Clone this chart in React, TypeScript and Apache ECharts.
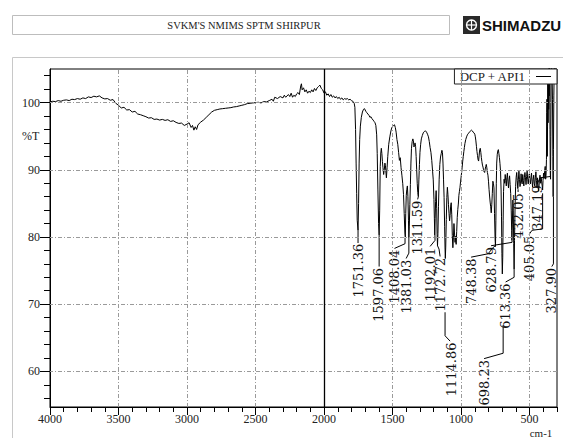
import React, { useEffect, useRef } from "react";
import * as echarts from "echarts";

// Spectrum: wavenumber (cm-1) and transmittance (%T)
const waveNumbers = [
  4000, 3980, 3960, 3940, 3920, 3900, 3880, 3860, 3840, 3820, 3800, 3780, 3760, 3740, 3720, 3700, 3680, 3660, 3640, 3620,
  3600, 3580, 3560, 3540, 3520, 3500, 3480, 3460, 3440, 3420, 3400, 3380, 3360, 3340, 3320, 3300, 3280, 3260, 3240, 3220,
  3200, 3180, 3160, 3140, 3120, 3100, 3080, 3060, 3040, 3020, 3000, 2985, 2970, 2960, 2950, 2940, 2930, 2920, 2900, 2880,
  2860, 2840, 2820, 2800, 2780, 2760, 2740, 2720, 2700, 2680, 2660, 2640, 2620, 2600, 2580, 2560, 2540, 2520, 2500, 2480,
  2460, 2440, 2420, 2400, 2380, 2370, 2360, 2340, 2320, 2300, 2290, 2280, 2260, 2250, 2240, 2230, 2220, 2210, 2200, 2190,
  2180, 2170, 2165, 2160, 2150, 2140, 2130, 2120, 2110, 2100, 2090, 2080, 2070, 2060, 2050, 2040, 2030, 2020, 2010, 2000,
  1990, 1980, 1970, 1960, 1950, 1940, 1930, 1920, 1910, 1900, 1890, 1880, 1870, 1860, 1850, 1840, 1830, 1820, 1810, 1800,
  1790, 1780, 1775, 1770, 1766, 1762, 1758, 1752, 1748, 1744, 1740, 1735, 1728, 1720, 1712, 1705, 1700, 1695, 1688, 1680,
  1672, 1665, 1658, 1650, 1642, 1635, 1628, 1622, 1616, 1612, 1607, 1602, 1598, 1594, 1590, 1586, 1582, 1578, 1574, 1570,
  1565, 1560, 1556, 1552, 1548, 1545, 1540, 1535, 1528, 1520, 1512, 1505, 1498, 1492, 1486, 1480, 1474, 1468, 1462, 1456,
  1450, 1444, 1438, 1432, 1426, 1420, 1415, 1410, 1407, 1404, 1400, 1396, 1392, 1388, 1384, 1381, 1378, 1374, 1370, 1366,
  1362, 1357, 1352, 1348, 1344, 1340, 1336, 1332, 1328, 1324, 1320, 1316, 1312, 1308, 1304, 1300, 1295, 1290, 1283, 1276,
  1268, 1260, 1252, 1245, 1238, 1232, 1226, 1220, 1214, 1208, 1203, 1198, 1195, 1192, 1189, 1186, 1182, 1178, 1175, 1172,
  1169, 1165, 1160, 1155, 1150, 1145, 1140, 1136, 1132, 1128, 1124, 1120, 1117, 1115, 1112, 1108, 1104, 1100, 1096, 1092,
  1088, 1084, 1080, 1076, 1072, 1068, 1064, 1060, 1056, 1052, 1048, 1044, 1040, 1036, 1032, 1028, 1024, 1020, 1016, 1012,
  1008, 1004, 1000, 996, 992, 988, 984, 980, 976, 972, 966, 960, 954, 948, 942, 936, 930, 924, 918, 912,
  906, 900, 896, 892, 888, 884, 880, 876, 872, 868, 864, 860, 856, 852, 848, 844, 840, 836, 832, 828,
  824, 820, 816, 812, 808, 804, 800, 796, 792, 788, 784, 780, 776, 772, 768, 764, 760, 756, 752, 749,
  746, 743, 740, 736, 732, 728, 724, 720, 716, 712, 708, 705, 702, 699, 696, 693, 690, 686, 682, 678,
  674, 670, 666, 662, 658, 654, 650, 646, 642, 638, 634, 631, 629, 626, 622, 619, 616, 613, 610, 606,
  602, 598, 594, 590, 586, 582, 578, 574, 570, 566, 562, 558, 554, 550, 546, 542, 538, 534, 530, 526,
  522, 518, 514, 510, 506, 502, 498, 494, 490, 486, 482, 478, 474, 470, 466, 462, 458, 454, 450, 446,
  442, 438, 434, 432, 428, 424, 420, 416, 412, 408, 405, 402, 398, 394, 390, 386, 383, 380, 377, 375,
  373, 371, 369, 367, 365, 363, 361, 359, 357, 355, 353, 351, 349, 347, 345, 343, 341, 338, 336, 333,
  330, 328, 326, 323, 320, 316, 312, 308, 304, 300,
];
const transmittance = [
  100.1, 100.2, 100.15, 100.3, 100.2, 100.35, 100.4, 100.3, 100.5, 100.45, 100.6, 100.5, 100.7, 100.6, 100.85, 100.75, 100.95, 100.85, 101.0, 100.7,
  100.55, 100.6, 100.35, 100.45, 99.9, 99.6, 99.2, 99.3, 98.9, 98.95, 98.6, 98.7, 98.3, 98.2, 98.05, 97.9, 97.7, 97.75, 97.5, 97.55,
  97.4, 97.5, 97.35, 97.45, 97.2, 97.3, 97.05, 96.9, 96.95, 96.6, 96.8, 97.0, 96.3, 96.6, 95.9, 96.4, 96.0, 96.7, 97.1, 97.4,
  97.8, 98.2, 98.6, 98.85, 98.95, 99.05, 99.1, 99.15, 99.2, 99.25, 99.35, 99.4, 99.5, 99.6, 99.7, 99.85, 99.9, 99.95, 100.0, 100.05,
  99.95, 100.15, 100.1, 100.3, 100.5, 100.2, 100.8, 100.6, 100.9, 100.7, 101.1, 100.8, 101.2, 100.9, 101.4, 100.8, 101.1, 100.9, 101.3, 101.5,
  101.2, 102.5, 102.8, 101.9, 102.2, 101.6, 101.9, 101.4, 101.7, 101.5, 101.9, 101.6, 102.1, 101.8, 102.2, 102.4, 102.6, 102.1, 101.9, 101.4,
  101.6, 101.1, 101.3, 100.9, 101.2, 100.8, 101.0, 100.7, 100.9, 100.6, 100.8, 100.5, 100.7, 100.4, 100.6, 100.5, 100.6, 100.4, 100.5, 100.3,
  100.2, 99.9, 99.3, 96.0, 91.0, 86.5, 82.5, 81.0, 85.0, 91.0, 94.5, 96.5, 97.8, 98.6, 99.0, 99.1, 98.9, 98.7, 98.5, 98.3,
  98.1, 97.8, 97.9, 97.6, 97.4, 97.2, 97.0, 96.6, 95.2, 92.4, 87.0, 82.0, 80.3, 84.0, 90.5, 92.5, 93.2, 92.4, 91.2, 90.3,
  89.3, 90.1, 91.0, 90.6, 89.5, 88.8, 90.3, 92.0, 93.8, 94.9, 95.8, 96.3, 96.5, 96.6, 96.7, 96.3, 95.6, 94.5, 93.8, 92.6,
  91.4, 91.8, 90.3, 89.2, 88.0, 86.3, 83.5, 80.6, 80.0, 83.5, 86.2, 87.1, 87.6, 86.0, 82.5, 79.9, 81.5, 84.8, 87.8, 91.0,
  93.2, 94.2, 94.6, 94.3, 93.4, 93.6, 94.0, 93.5, 92.0, 90.0, 88.0, 86.6, 86.0, 88.5, 90.8, 92.6, 93.8, 94.6, 95.1, 95.5,
  95.7, 95.8, 95.6, 95.3, 94.9, 94.2, 93.3, 92.6, 91.4, 89.8, 88.5, 85.6, 82.8, 80.3, 82.8, 85.3, 86.9, 84.2, 80.4, 78.7,
  80.5, 84.5, 88.6, 90.8, 91.9, 92.4, 92.9, 92.6, 91.0, 88.5, 85.9, 81.6, 78.2, 76.8, 78.5, 82.6, 85.9, 87.4, 86.3, 84.8,
  83.5, 82.4, 83.2, 84.6, 85.1, 83.3, 80.2, 78.4, 79.9, 82.0, 80.6, 79.2, 80.1, 78.9, 80.8, 82.9, 84.1, 84.9, 86.2, 86.8,
  87.4, 88.2, 88.9, 89.6, 90.4, 91.3, 92.0, 92.7, 93.3, 93.9, 94.5, 94.9, 95.2, 95.4, 95.5, 95.7, 95.8, 95.9, 95.8, 95.6,
  95.5, 95.3, 94.9, 94.3, 93.5, 92.7, 92.1, 91.5, 91.3, 92.2, 93.0, 93.2, 92.6, 91.8, 91.2, 90.7, 90.4, 90.0, 89.7, 89.6,
  90.1, 90.5, 90.8, 90.3, 89.6, 89.2, 88.3, 87.1, 86.1, 85.2, 84.5, 83.6, 84.8, 86.5, 88.3, 88.0, 87.3, 83.5, 79.8, 78.6,
  82.5, 88.0, 91.0, 92.3, 92.8, 93.0, 92.4, 91.8, 90.9, 89.8, 87.0, 83.0, 77.5, 74.5, 77.0, 82.5, 86.8, 88.6, 88.0, 89.3,
  88.4, 87.6, 88.8, 89.5, 88.2, 87.3, 88.5, 89.1, 87.8, 86.5, 84.0, 81.0, 79.5, 81.8, 85.5, 84.0, 79.0, 75.2, 79.5, 84.5,
  87.5, 88.9, 89.6, 88.4, 87.2, 88.5, 89.8, 88.6, 87.5, 88.0, 89.4, 88.1, 87.9, 89.3, 88.4, 87.6, 88.9, 89.6, 88.8, 87.8,
  89.0, 89.8, 88.6, 87.9, 88.7, 89.4, 88.5, 87.9, 88.8, 89.5, 88.3, 87.4, 88.6, 89.2, 88.0, 87.6, 88.8, 89.7, 88.4, 87.5,
  88.8, 87.6, 86.8, 86.8, 88.5, 89.2, 88.0, 88.9, 88.2, 87.6, 87.0, 88.4, 89.5, 88.7, 89.8, 90.5, 88.6, 89.2, 91.5, 98.5,
  100.5, 92.0, 96.5, 103.5, 97.0, 104.0, 99.0, 105.5, 101.0, 105.5, 104.0, 96.0, 89.5, 88.6, 95.0, 103.0, 105.5, 105.5, 104.5, 100.5,
  92.0, 86.0, 93.0, 101.0, 105.5, 105.5, 104.2, 105.5, 105.5, 105.5,
];

// Peak annotations
const peakLabels = [
  "1751.36", "1597.06", "1408.04", "1381.03", "1311.59", "1192.01", "1172.72", "1114.86",
  "748.38", "698.23", "628.79", "613.36", "432.05", "405.05", "347.19", "327.90",
];
const labelWn = [1752, 1606, 1489, 1401, 1321, 1226, 1153, 1073, 927, 832, 781, 675, 584, 503, 445, 341];
const labelTopT = [79.0, 75.4, 78.1, 76.6, 85.4, 78.4, 76.9, 64.3, 76.8, 61.7, 78.5, 73.1, 86.5, 80.2, 87.7, 75.4];
const leaderPaths: number[][][] = [
  [[1752, 81.0], [1752, 79.1]],
  [[1598, 80.3], [1598, 75.6]],
  [[1409, 79.9], [1409, 79.0], [1486, 78.3]],
  [[1381, 79.9], [1381, 77.6], [1401, 76.8]],
  [[1312, 86.0], [1317, 85.6]],
  [[1191, 80.3], [1190, 79.5], [1226, 78.6]],
  [[1172, 78.7], [1161, 78.2], [1153, 77.1]],
  [[1117, 68.8], [1117, 65.3], [1080, 64.5]],
  [[927, 77.0], [803, 77.5], [759, 78.6], [749, 78.6]],
  [[832, 61.9], [693, 62.7], [693, 66.9]],
  [[781, 78.7], [628, 79.2], [628, 79.5]],
  [[675, 73.3], [613, 74.0], [613, 75.2]],
  [[584, 86.7], [584, 87.1]],
  [[503, 80.4], [482, 81.0], [405, 81.2], [405, 86.5]],
  [[445, 87.9], [423, 88.8], [350, 89.0]],
  [[326, 86.0], [326, 76.0], [338, 75.6]],
];

const xLabelValues = [4000, 3500, 3000, 2500, 2000, 1500, 1000, 500];
const xGridValues = [3500, 3000, 2500, 1500, 1000, 500];
const yLabelValues = [60, 70, 80, 90, 100];
const yMinorTicks = [56, 58, 60, 62, 64, 66, 68, 70, 72, 74, 76, 78, 80, 82, 84, 86, 88, 90, 92, 94, 96, 98, 100, 102, 104];
const seriesName = "DCP + API1";
const titleText = "SVKM'S NMIMS SPTM SHIRPUR";

const SERIF = '"Liberation Serif", "Times New Roman", serif';

export default function App() {
  const ref = useRef<HTMLDivElement>(null);
  useEffect(() => {
    if (!ref.current) return;
    const chart = echarts.init(ref.current, undefined, { renderer: "svg" });
    const spectrum = waveNumbers.map((w, i) => [w, transmittance[i]]);
    const dash = [4, 2, 1, 2];
    const option: any = {
      animation: false,
      backgroundColor: "#fff",
      grid: { left: 50, top: 69, width: 507, height: 338, show: true, borderColor: "#000", borderWidth: 1, backgroundColor: "transparent" },
      legend: {
        data: [{ name: seriesName, icon: "rect" }],
        right: 6,
        top: 69,
        align: "right",
        itemWidth: 15,
        itemHeight: 1,
        padding: [1, 6, 1, 4],
        backgroundColor: "#fff",
        borderColor: "#222",
        borderWidth: 1,
        textStyle: { fontFamily: SERIF, fontSize: 13, color: "#222", padding: [0, 6, 0, 0] },
      },
      xAxis: [
        {
          type: "value", inverse: true, min: 300, max: 4000, interval: 100, position: "bottom",
          axisLine: { lineStyle: { color: "#000", width: 1 } },
          axisTick: { length: 5, lineStyle: { color: "#000" } },
          axisLabel: { customValues: xLabelValues, formatter: (v: number) => String(v), margin: 6, fontFamily: SERIF, fontSize: 12, color: "#222" },
          splitLine: { show: false },
        },
        {
          type: "value", inverse: true, min: 300, max: 4000, position: "bottom",
          axisLine: { show: false },
          axisTick: { customValues: xLabelValues, length: 8, lineStyle: { color: "#000" } },
          axisLabel: { show: false },
          splitLine: { show: false },
        },
      ],
      yAxis: [
        {
          type: "value", min: 54.7, max: 105, position: "left",
          axisLine: { show: true, lineStyle: { color: "#000", width: 1 } },
          axisTick: { show: true, customValues: yMinorTicks, length: 6, lineStyle: { color: "#000" } },
          axisLabel: { customValues: yLabelValues, formatter: (v: number) => String(v), margin: 10, fontFamily: SERIF, fontSize: 12, color: "#222" },
          splitLine: { show: false },
        },
        {
          type: "value", min: 54.7, max: 105, position: "left",
          axisLine: { show: false },
          axisTick: { show: true, customValues: yLabelValues, length: 10, lineStyle: { color: "#000" } },
          axisLabel: { show: false },
          splitLine: { show: false },
        },
      ],
      graphic: [
        { type: "rect", shape: { x: 12.5, y: 15.5, width: 437, height: 19 }, style: { fill: "#fff", stroke: "#bdbdbd", lineWidth: 1 }, z: 0 },
        { type: "text", x: 244, y: 25, style: { text: titleText, font: '10.5px "Liberation Serif"', fill: "#222", align: "center", verticalAlign: "middle" } },
        { type: "rect", shape: { x: 12.5, y: 57.5, width: 560, height: 400 }, style: { fill: "none", stroke: "#c8c8c8", lineWidth: 1 }, z: 0 },
        { type: "rect", shape: { x: 463, y: 16, width: 17, height: 18 }, style: { fill: "#2a2a2a" } },
        { type: "circle", shape: { cx: 471.5, cy: 25, r: 5 }, style: { fill: "none", stroke: "#fff", lineWidth: 1.4 } },
        { type: "line", shape: { x1: 471.5, y1: 20, x2: 471.5, y2: 30 }, style: { stroke: "#fff", lineWidth: 1.2 } },
        { type: "line", shape: { x1: 466.5, y1: 25, x2: 476.5, y2: 25 }, style: { stroke: "#fff", lineWidth: 1.2 } },
        { type: "text", x: 482, y: 25.5, style: { text: "SHIMADZU", font: 'bold 15px "Liberation Sans"', fill: "#111", align: "left", verticalAlign: "middle" } },
        { type: "text", x: 22, y: 136, style: { text: "%T", font: '12px "Liberation Serif"', fill: "#222", align: "left", verticalAlign: "middle" } },
        { type: "text", x: 541, y: 433, style: { text: "cm-1", font: '11px "Liberation Serif"', fill: "#222", align: "center", verticalAlign: "middle" } },
      ],
      series: [
        {
          name: "grid-lines",
          type: "line",
          data: [],
          silent: true,
          z: 1,
          markLine: {
            silent: true,
            symbol: ["none", "none"],
            label: { show: false },
            animation: false,
            data: [
              ...yLabelValues.map((v) => ({ yAxis: v, lineStyle: { color: "#9a9a9a", width: 1, type: dash } })),
              ...xGridValues.map((v) => ({ xAxis: v, lineStyle: { color: "#9a9a9a", width: 1, type: dash } })),
              { xAxis: 2000, lineStyle: { color: "#000", width: 1.3, type: "solid" } },
            ],
          },
        },
        {
          name: seriesName,
          type: "line",
          data: spectrum,
          symbol: "none",
          showSymbol: false,
          clip: true,
          z: 3,
          color: "#000",
          lineStyle: { color: "#000", width: 1 },
        },
        {
          name: "peaks",
          type: "custom",
          z: 4,
          silent: true,
          data: peakLabels.map((_, i) => [labelWn[i], labelTopT[i]]),
          encode: { x: 0, y: 1 },
          renderItem: (params: any, api: any) => {
            const i = params.dataIndex;
            const pts = leaderPaths[i].map((p) => api.coord(p));
            const anchor = api.coord([labelWn[i], labelTopT[i]]);
            return {
              type: "group",
              children: [
                { type: "polyline", shape: { points: pts }, style: { stroke: "#000", lineWidth: 1, fill: null } },
                {
                  type: "text",
                  x: anchor[0],
                  y: anchor[1],
                  rotation: Math.PI / 2,
                  style: { text: peakLabels[i], font: '13px "DejaVu Serif"', fill: "#111", align: "right", verticalAlign: "middle" },
                },
              ],
            };
          },
        },
      ],
    };
    chart.setOption(option);
    return () => chart.dispose();
  }, []);
  return <div ref={ref} style={{ position: "absolute", left: 0, top: 0, width: 563, height: 438 }} />;
}
